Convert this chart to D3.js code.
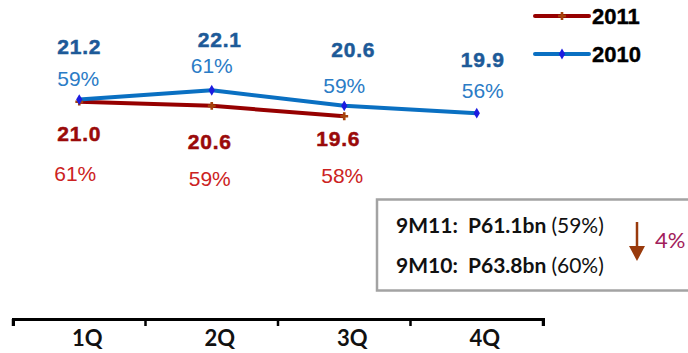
<!DOCTYPE html>
<html>
<head>
<meta charset="utf-8">
<script src="https://cdn.jsdelivr.net/npm/d3@7"></script>
<style>
  html, body { margin: 0; padding: 0; background: #fff; }
  svg { display: block; }
</style>
</head>
<body>
<svg id="chart" width="688" height="353"></svg>
<script>
// Quarterly figures (P bn) and share percentages
const quarters = ["1Q", "2Q", "3Q", "4Q"];
const values2010 = [21.2, 22.1, 20.6, 19.9];
const share2010 = ["59%", "61%", "59%", "56%"];
const values2011 = [21.0, 20.6, 19.6];
const share2011 = ["61%", "59%", "58%"];
const seriesNames = ["2011", "2010"];
const summaryLines = [
  { label: "9M11:", amount: "P61.1bn", share: "(59%)" },
  { label: "9M10:", amount: "P63.8bn", share: "(60%)" }
];
const changeLabel = "4%";

const svg = d3.select("#chart");

const x = d3.scaleBand().domain(quarters).range([13, 543]);
const y = d3.scaleLinear().domain([19, 23]).range([122.5, 80.9]);
const cx = q => x(q) + x.bandwidth() / 2;

const C = {
  blueLine: "#0A70C2", blueMark: "#1C1CE0", blueVal: "#1D5A98", bluePct: "#2B7CC6",
  redLine: "#960000", redMark: "#A5420C", redVal: "#9A0A0A", redPct: "#CC2222"
};

// category axis along the bottom
const axis = d3.axisBottom(x).tickSize(7).tickSizeOuter(7).tickFormat("");
const gAxis = svg.append("g").attr("transform", "translate(0,319)").call(axis);
gAxis.select(".domain").attr("stroke", "#000").attr("stroke-width", 3);
gAxis.selectAll(".tick line").attr("stroke", "#000").attr("stroke-width", 2.5)
  .attr("x1", x.bandwidth() / 2).attr("x2", x.bandwidth() / 2);
gAxis.selectAll(".tick").filter((d, i) => i === 0).append("line")
  .attr("x1", -x.bandwidth() / 2).attr("x2", -x.bandwidth() / 2)
  .attr("y1", 0).attr("y2", 7).attr("stroke", "#000").attr("stroke-width", 2.5);
gAxis.selectAll(".tick").append("text")
  .attr("x", 8).attr("y", 27)
  .attr("text-anchor", "middle")
  .attr("fill", "#111")
  .style("font", "bold 22px Lato, 'Open Sans', sans-serif")
  .text(d => d);

// lines
const line = d3.line().x(d => cx(d.q)).y(d => y(d.v));
const pts2010 = values2010.map((v, i) => ({ q: quarters[i], v }));
const pts2011 = values2011.map((v, i) => ({ q: quarters[i], v }));

svg.append("path").datum(pts2011).attr("d", line)
  .attr("fill", "none").attr("stroke", C.redLine).attr("stroke-width", 4).attr("stroke-linejoin", "round");
svg.append("path").datum(pts2010).attr("d", line)
  .attr("fill", "none").attr("stroke", C.blueLine).attr("stroke-width", 4).attr("stroke-linejoin", "round");

const diamond = d3.symbol().type(d3.symbolDiamond).size(34);
const cross = d3.symbol().type(d3.symbolCross).size(34);
svg.selectAll(".m2011").data(pts2011).join("path")
  .attr("transform", d => `translate(${cx(d.q)},${y(d.v)})`)
  .attr("d", cross).attr("fill", C.redMark);
svg.selectAll(".m2010").data(pts2010).join("path")
  .attr("transform", d => `translate(${cx(d.q)},${y(d.v)})`)
  .attr("d", diamond).attr("fill", C.blueMark);

// value and share labels, nudged around each point
const blueValOff = [[0, -46], [8, -43], [9, -49], [6, -46]];
const bluePctOff = [[-1, -14], [0, -17], [0, -13], [6, -15]];
const redValOff = [[0, 39], [-2, 43], [-6, 30]];
const redPctOff = [[-4, 79], [-2, 80], [-2, 67]];

function labels(pts, texts, off, color, weight) {
  svg.append("g").selectAll("text").data(pts).join("text")
    .attr("x", (d, i) => cx(d.q) + off[i][0])
    .attr("y", (d, i) => y(d.v) + off[i][1])
    .attr("text-anchor", "middle")
    .attr("fill", color)
    .attr("stroke", weight === "bold" ? color : "none")
    .attr("stroke-width", 0.5)
    .style("font", `${weight} 21px 'Liberation Sans', Arial, sans-serif`)
    .style("letter-spacing", weight === "bold" ? "0.8px" : "0px")
    .text((d, i) => texts[i]);
}
labels(pts2010, values2010.map(v => v.toFixed(1)), blueValOff, C.blueVal, "bold");
labels(pts2010, share2010, bluePctOff, C.bluePct, "normal");
labels(pts2011, values2011.map(v => v.toFixed(1)), redValOff, C.redVal, "bold");
labels(pts2011, share2011, redPctOff, C.redPct, "normal");

// legend
const legend = svg.append("g");
[{ name: seriesNames[0], line: C.redLine, mark: C.redMark, sym: cross, yy: 16 },
 { name: seriesNames[1], line: C.blueLine, mark: C.blueMark, sym: diamond, yy: 54 }]
  .forEach(s => {
    legend.append("line").attr("x1", 535).attr("x2", 589).attr("y1", s.yy).attr("y2", s.yy)
      .attr("stroke", s.line).attr("stroke-width", 4).attr("stroke-linecap", "round");
    legend.append("path").attr("transform", `translate(562,${s.yy})`).attr("d", s.sym).attr("fill", s.mark);
    legend.append("text").attr("x", 592).attr("y", s.yy + 8)
      .attr("fill", "#000").attr("stroke", "#000").attr("stroke-width", 0.4)
      .style("font", "bold 22px 'Liberation Sans', Arial, sans-serif")
      .text(s.name);
  });

// nine-month summary box
const box = svg.append("g");
box.append("rect").attr("x", 377).attr("y", 199.5).attr("width", 330).attr("height", 91)
  .attr("fill", "#fff").attr("stroke", "#A3A3A3").attr("stroke-width", 2.5);
summaryLines.forEach((s, i) => {
  const t = box.append("text").attr("x", 396).attr("y", 233 + i * 40)
    .attr("fill", "#111").style("font", "21px Lato, 'Open Sans', sans-serif");
  t.append("tspan").attr("font-weight", "bold").text(s.label + "\u00a0\u00a0" + s.amount + " ");
  t.append("tspan").text(s.share);
});
box.append("line").attr("x1", 637).attr("x2", 637).attr("y1", 222).attr("y2", 248)
  .attr("stroke", "#993A0C").attr("stroke-width", 2.5);
box.append("path").attr("d", "M629,246L645,246L637,261Z").attr("fill", "#993A0C");
box.append("text").attr("x", 655).attr("y", 248).attr("fill", "#A2205A")
  .style("font", "22px Lato, 'Open Sans', sans-serif").text(changeLabel);
</script>
</body>
</html>
